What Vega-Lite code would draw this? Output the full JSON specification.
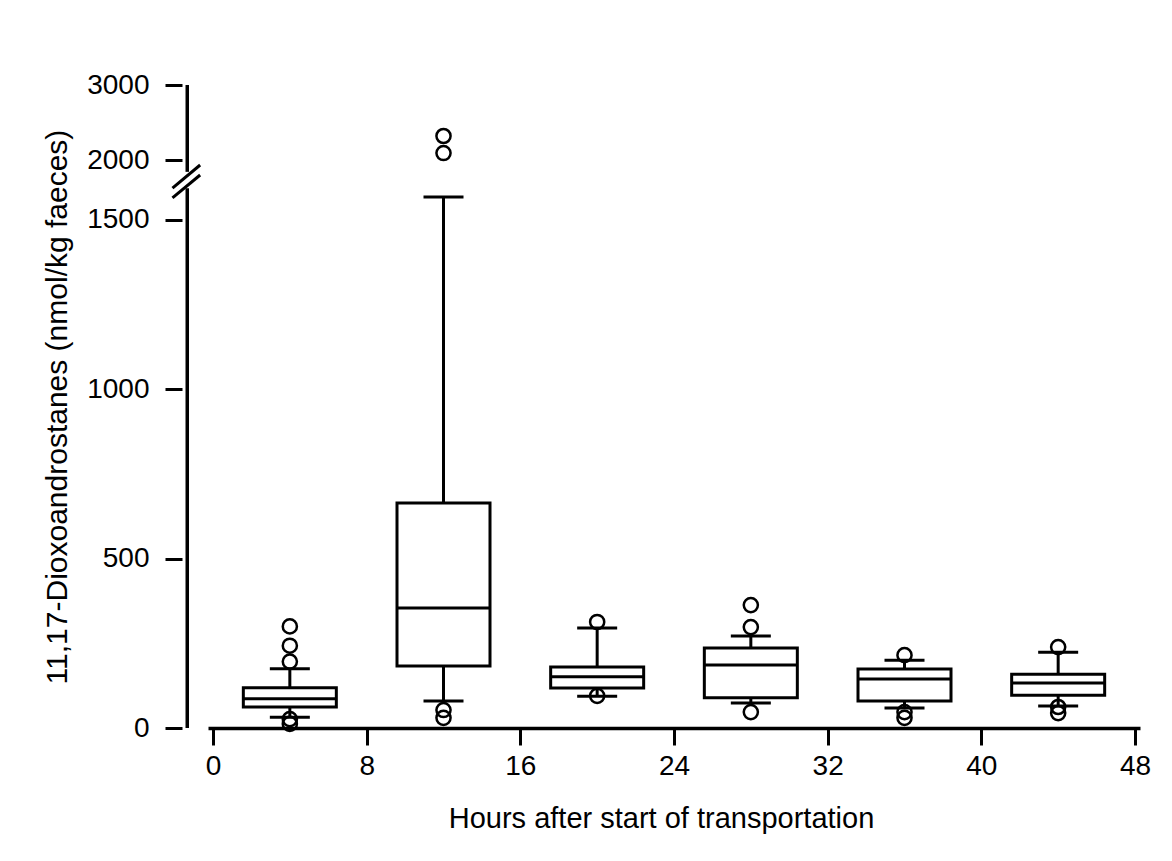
{
  "$schema": "https://vega.github.io/schema/vega-lite/v6.json",
  "autosize": {"type": "none"},
  "padding": {"left": 208, "top": 85, "right": 32, "bottom": 133},
  "width": 932,
  "height": 643,
  "background": "white",
  "config": {
    "font": "Liberation Sans",
    "view": {"stroke": null},
    "axis": {"grid": false, "labelColor": "black", "titleColor": "black", "titleFontWeight": "normal", "tickColor": "black", "domainColor": "black"}
  },
  "datasets": {
    "boxes": [
      {"hour": 4, "lo": 32, "q1": 62, "med": 86, "q3": 119, "hi": 175},
      {"hour": 12, "lo": 80, "q1": 183, "med": 354, "q3": 664, "hi": 1568},
      {"hour": 20, "lo": 94, "q1": 118, "med": 151, "q3": 180, "hi": 295},
      {"hour": 28, "lo": 74, "q1": 89, "med": 186, "q3": 236, "hi": 272},
      {"hour": 36, "lo": 59, "q1": 80, "med": 145, "q3": 174, "hi": 200},
      {"hour": 44, "lo": 65, "q1": 97, "med": 133, "q3": 159, "hi": 224}
    ],
    "outliers": [
      {"hour": 4, "value": 300}, {"hour": 4, "value": 243}, {"hour": 4, "value": 196}, {"hour": 4, "value": 26}, {"hour": 4, "value": 12},
      {"hour": 12, "value": 2320}, {"hour": 12, "value": 2093}, {"hour": 12, "value": 53}, {"hour": 12, "value": 30},
      {"hour": 20, "value": 313}, {"hour": 20, "value": 95},
      {"hour": 28, "value": 363}, {"hour": 28, "value": 298}, {"hour": 28, "value": 47},
      {"hour": 36, "value": 215}, {"hour": 36, "value": 47}, {"hour": 36, "value": 30},
      {"hour": 44, "value": 239}, {"hour": 44, "value": 62}, {"hour": 44, "value": 44}
    ],
    "one": [{}]
  },
  "layer": [
    {
      "data": {"name": "boxes"},
      "mark": {"type": "rule", "color": "black", "strokeWidth": 3},
      "encoding": {
        "x": {"field": "hour", "type": "quantitative",
          "scale": {"domain": [0, 48], "nice": false, "zero": false},
          "axis": {"values": [0, 8, 16, 24, 32, 40, 48], "title": "Hours after start of transportation",
            "domainWidth": 3.5, "tickWidth": 3, "tickSize": 17, "labelFontSize": 28, "labelPadding": 7,
            "titleFontSize": 29, "titlePadding": 24, "titleX": 453}},
        "y": {"field": "lo", "type": "quantitative",
          "scale": {"domain": [0, 1600, 1850, 3000], "range": [643, 101.1, 86.25, 0], "nice": false, "zero": false},
          "axis": {"values": [0, 500, 1000, 1500, 2000, 3000], "format": "d", "title": "11,17-Dioxoandrostanes (nmol/kg faeces)",
            "offset": 26, "domain": false, "tickWidth": 3, "tickSize": 17, "labelFontSize": 28, "labelPadding": 16,
            "titleFontSize": 30, "titlePadding": 14}},
        "y2": {"field": "hi"}
      }
    },
    {
      "data": {"name": "boxes"},
      "mark": {"type": "bar", "size": 93, "fill": "white", "stroke": "black", "strokeWidth": 3},
      "encoding": {
        "x": {"field": "hour", "type": "quantitative"},
        "y": {"field": "q1", "type": "quantitative"},
        "y2": {"field": "q3"}
      }
    },
    {
      "data": {"name": "boxes"},
      "mark": {"type": "tick", "orient": "horizontal", "size": 93, "thickness": 3, "color": "black", "opacity": 1},
      "encoding": {
        "x": {"field": "hour", "type": "quantitative"},
        "y": {"field": "med", "type": "quantitative"}
      }
    },
    {
      "data": {"name": "boxes"},
      "mark": {"type": "tick", "orient": "horizontal", "size": 40, "thickness": 3, "color": "black", "opacity": 1},
      "encoding": {
        "x": {"field": "hour", "type": "quantitative"},
        "y": {"field": "lo", "type": "quantitative"}
      }
    },
    {
      "data": {"name": "boxes"},
      "mark": {"type": "tick", "orient": "horizontal", "size": 40, "thickness": 3, "color": "black", "opacity": 1},
      "encoding": {
        "x": {"field": "hour", "type": "quantitative"},
        "y": {"field": "hi", "type": "quantitative"}
      }
    },
    {
      "data": {"name": "outliers"},
      "mark": {"type": "point", "shape": "circle", "filled": false, "size": 200, "strokeWidth": 2.5, "color": "black", "opacity": 1},
      "encoding": {
        "x": {"field": "hour", "type": "quantitative"},
        "y": {"field": "value", "type": "quantitative"}
      }
    },
    {
      "data": {"name": "one"},
      "mark": {"type": "rule", "color": "black", "strokeWidth": 3.5},
      "encoding": {
        "x": {"datum": -1.34, "type": "quantitative"},
        "y": {"datum": 0, "type": "quantitative"},
        "y2": {"datum": 1594}
      }
    },
    {
      "data": {"name": "one"},
      "mark": {"type": "rule", "color": "black", "strokeWidth": 3.5},
      "encoding": {
        "x": {"datum": -1.34, "type": "quantitative"},
        "y": {"datum": 1840, "type": "quantitative"},
        "y2": {"datum": 3000}
      }
    },
    {
      "data": {"name": "one"},
      "mark": {"type": "rule", "color": "black", "strokeWidth": 3},
      "encoding": {
        "x": {"datum": -2.11, "type": "quantitative"},
        "x2": {"datum": -0.67},
        "y": {"datum": 1565, "type": "quantitative"},
        "y2": {"datum": 1787}
      }
    },
    {
      "data": {"name": "one"},
      "mark": {"type": "rule", "color": "black", "strokeWidth": 3},
      "encoding": {
        "x": {"datum": -2.11, "type": "quantitative"},
        "x2": {"datum": -0.67},
        "y": {"datum": 1594, "type": "quantitative"},
        "y2": {"datum": 1933}
      }
    }
  ]
}
